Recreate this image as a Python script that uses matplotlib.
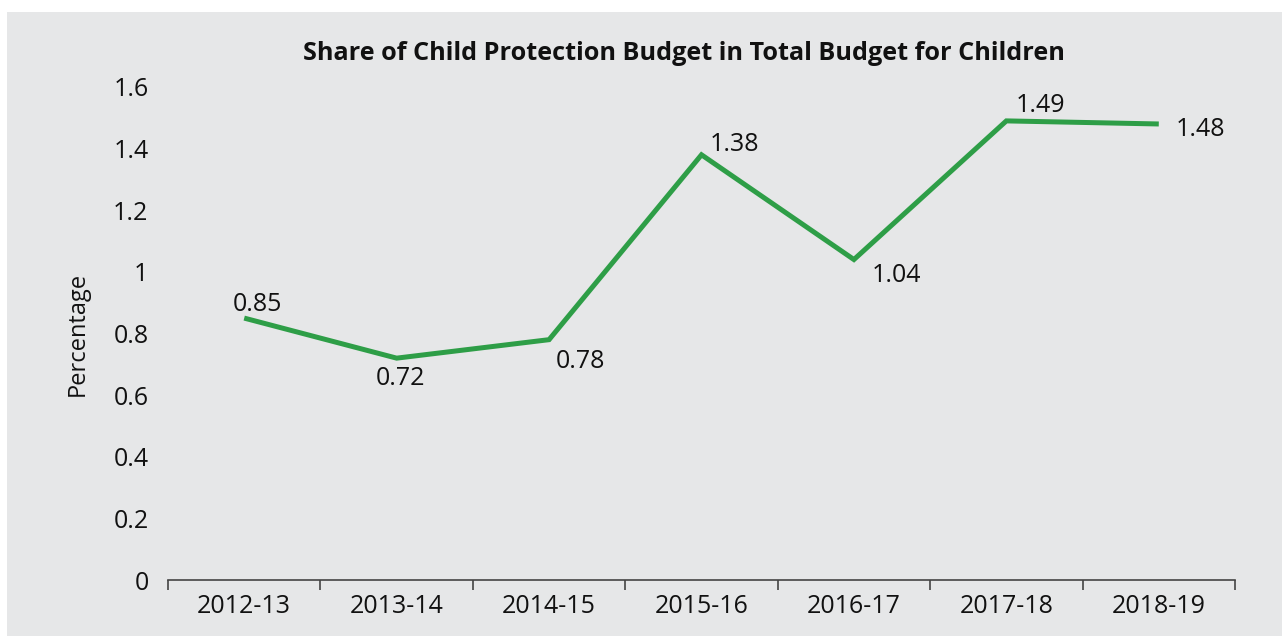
import matplotlib
matplotlib.use("Agg")
import matplotlib.pyplot as plt
from matplotlib.patches import Rectangle

years = ["2012-13", "2013-14", "2014-15", "2015-16", "2016-17", "2017-18", "2018-19"]
share = [0.85, 0.72, 0.78, 1.38, 1.04, 1.49, 1.48]
label_offsets = [(13, 14), (4, -20), (31, -22), (33, 10), (43, -16), (34, 15), (42, -6)]

plt.rcParams['font.family'] = ['Open Sans', 'DejaVu Sans']

W, H = 1282, 636
fig = plt.figure(figsize=(W/100, H/100), dpi=100)
fig.patch.set_facecolor('white')
bg = Rectangle((7/W, 0), 1 - 7/W, (H - 12)/H, transform=fig.transFigure,
               facecolor='#e6e7e8', edgecolor='none', zorder=0)
fig.patches.append(bg)

ax = fig.add_axes([168/W, (H-580)/H, (1235-168)/W, (580-87)/H])
ax.set_zorder(2)
ax.set_facecolor('none')
x = list(range(len(years)))
ax.plot(x, share, color='#2e9e47', lw=3.6, solid_joinstyle='miter', solid_capstyle='butt')
for xi, v, (dx, dy) in zip(x, share, label_offsets):
    ax.annotate(f"{v:.2f}", (xi, v), xytext=(dx, dy), textcoords='offset pixels',
                ha='center', va='center', fontsize=18, color='#111111')

ax.set_xlim(-0.5, len(years) - 0.5)
ax.set_ylim(0, 1.6)
ax.set_yticks([0, 0.2, 0.4, 0.6, 0.8, 1.0, 1.2, 1.4, 1.6])
ax.set_yticklabels(["0", "0.2", "0.4", "0.6", "0.8", "1", "1.2", "1.4", "1.6"])
ax.set_xticks(x)
ax.set_xticklabels(years)
ax.set_xticks([i - 0.5 for i in range(len(years) + 1)], minor=True)
ax.tick_params(axis='x', which='major', length=0, labelsize=18, pad=10, labelcolor='#111111')
ax.tick_params(axis='x', which='minor', length=7, width=1.2, direction='out', color='#444444')
ax.tick_params(axis='y', length=0, labelsize=18, pad=14, labelcolor='#111111')
for s in ['top', 'right', 'left']:
    ax.spines[s].set_visible(False)
ax.spines['bottom'].set_color('#444444')
ax.spines['bottom'].set_linewidth(1.2)
ax.set_ylabel("Percentage", fontsize=17, labelpad=17, color='#111111')

fig.text(684/W, 1 - 53/H, "Share of Child Protection Budget in Total Budget for Children",
         ha='center', va='center', fontsize=18.2, fontweight='bold', color='#111111')

fig.savefig("out.png", dpi=100, facecolor=fig.get_facecolor())
